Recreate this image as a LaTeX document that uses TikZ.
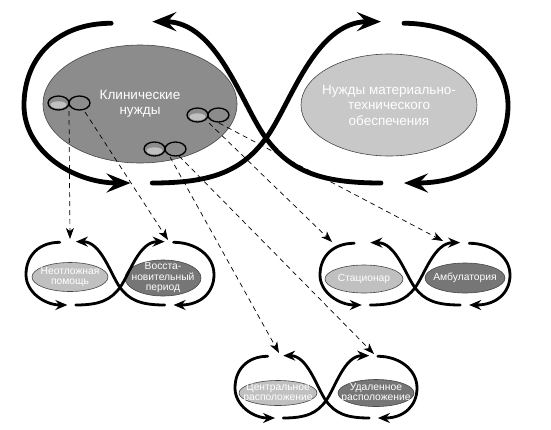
\documentclass[tikz,border=0pt]{standalone}
\usepackage{fontspec}
\setmainfont{Liberation Sans}
\usetikzlibrary{arrows.meta,shapes.geometric}

\definecolor{clinfill}{RGB}{140,140,140}
\definecolor{techfill}{RGB}{200,200,200}
\definecolor{litefill}{RGB}{192,192,192}
\definecolor{darkfill}{RGB}{118,118,118}
\definecolor{rimgray}{RGB}{70,70,70}

\begin{document}
\begin{tikzpicture}[x=1pt, y=-1pt, line cap=round,
    bigloop/.style={line width=4.8pt, >={Stealth[length=24pt,width=19pt,inset=9pt]}},
    smallloop/.style={line width=2.8pt, >={Stealth[length=12pt,width=10pt,inset=4pt]}},
    need/.style={ellipse, draw=rimgray, line width=0.6pt, inner sep=0pt},
    bigtxt/.style={font=\fontsize{13.5}{15.5}\selectfont, align=center, text=white},
    smalltxt/.style={font=\fontsize{10.3}{10.5}\selectfont, align=center, text=white},
    link/.style={->, >={Stealth[length=11pt,width=8pt,inset=3pt]}, dash pattern=on 5pt off 4pt, line width=0.7pt, line cap=butt},
    infloop/.pic={
        \draw[->] (-0.64,-0.96) .. controls (-0.86,-0.96) and (-1,-0.55) .. (-1,0.05)
                  .. controls (-1,0.6) and (-0.8,1) .. (-0.56,1);
        \draw[->] (-0.47,1) .. controls (-0.22,1) and (-0.1,0.85) .. (0,0.45)
                  .. controls (0.1,0.05) and (0.2,-0.98) .. (0.475,-0.98);
        \draw[->] (0.57,-0.96) .. controls (0.8,-0.96) and (1,-0.55) .. (1,0.05)
                  .. controls (1,0.6) and (0.86,1) .. (0.57,1);
        \draw[->] (0.475,1) .. controls (0.22,1) and (0.1,0.85) .. (0,0.45)
                  .. controls (-0.1,0.05) and (-0.2,-0.98) .. (-0.47,-0.98);
    },
    needicon/.pic={
        \fill[litefill] (-10.5,1.8) ellipse [x radius=8, y radius=3.5];
        \draw[line width=1.3pt] (-10.5,0) ellipse [x radius=10.5, y radius=7];
        \draw[line width=1.3pt] (10.5,0) ellipse [x radius=10.5, y radius=7];
    }
  ]
    \useasboundingbox (0,0) rectangle (551,429);

    % Nodes {needs}
    \node [need, fill=clinfill, minimum width=194pt, minimum height=118pt,
           label={[bigtxt]center:{Клинические\\нужды}}]                          (clin) at (140,104) {};
    \node [need, fill=techfill, minimum width=176pt, minimum height=102pt,
           label={[bigtxt]center:{Нужды материально-\\технического\\обеспечения}}] (tech) at (389,105) {};

    \node [need, fill=litefill, minimum width=76pt, minimum height=29pt,
           label={[smalltxt]center:{Неотложная\\помощь}}]                         (neo)  at (70,277)  {};
    \node [need, fill=darkfill, minimum width=76pt, minimum height=36pt,
           label={[smalltxt]center:{Восста-\\новительный\\период}}]               (vos)  at (163,278) {};
    \node [need, fill=litefill, minimum width=78pt, minimum height=28pt,
           label={[smalltxt]center:Стационар}]                                    (sta)  at (364,279) {};
    \node [need, fill=darkfill, minimum width=80pt, minimum height=30pt,
           label={[smalltxt]center:Амбулатория}]                                  (amb)  at (465,278) {};
    \node [need, fill=litefill, minimum width=78pt, minimum height=25pt,
           label={[smalltxt]center:{Центральное\\расположение}}]                  (cen)  at (278,393) {};
    \node [need, fill=darkfill, minimum width=76pt, minimum height=27pt,
           label={[smalltxt]center:{Удаленное\\расположение}}]                    (uda)  at (376,393) {};

    % Loops
    \pic [bigloop, xscale=242, yscale=81.5]  at (266,101.5) {infloop};
    \pic [smallloop, xscale=94, yscale=32]   at (120,273)   {infloop};
    \pic [smallloop, xscale=95, yscale=31.5] at (415,273.5) {infloop};
    \pic [smallloop, xscale=91, yscale=31.5] at (326,386.5) {infloop};

    % Icons
    \pic at (69,103)  {needicon};
    \pic at (165,149) {needicon};
    \pic at (208,115) {needicon};

    % Coordinates {starts, tips}
    \coordinate (s-neo) at (69,111);
    \coordinate (s-vos) at (85,112);
    \coordinate (s-cen) at (170,157);
    \coordinate (s-uda) at (179,156);
    \coordinate (s-sta) at (209,123);
    \coordinate (s-amb) at (219,123);
    \coordinate (t-neo) at (70,239);
    \coordinate (t-vos) at (168,240);
    \coordinate (t-sta) at (332,242);
    \coordinate (t-amb) at (443,241);
    \coordinate (t-cen) at (279,353);
    \coordinate (t-uda) at (374,354);

    % Paths
    \draw [link] (s-neo) -- (t-neo);
    \draw [link] (s-vos) -- (t-vos);
    \draw [link] (s-sta) -- (t-sta);
    \draw [link] (s-amb) -- (t-amb);
    \draw [link] (s-cen) -- (t-cen);
    \draw [link] (s-uda) -- (t-uda);

\end{tikzpicture}
\end{document}
